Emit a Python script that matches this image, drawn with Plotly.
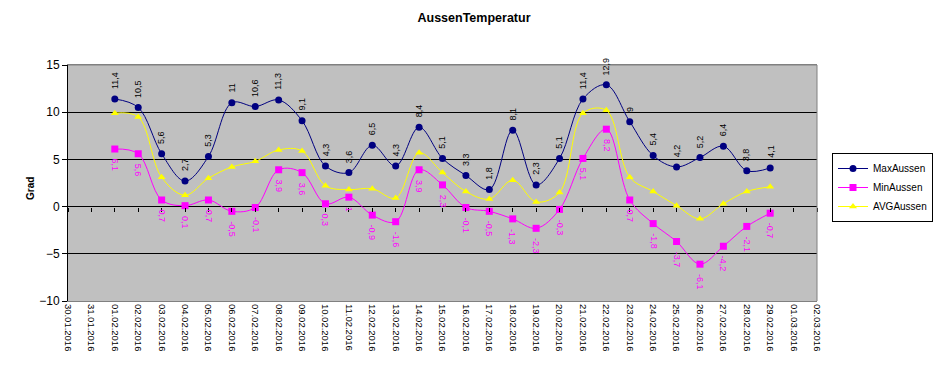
import plotly.graph_objects as go

axis_dates = ["30.01.2016", "31.01.2016",
              "01.02.2016", "02.02.2016", "03.02.2016", "04.02.2016", "05.02.2016",
              "06.02.2016", "07.02.2016", "08.02.2016", "09.02.2016", "10.02.2016",
              "11.02.2016", "12.02.2016", "13.02.2016", "14.02.2016", "15.02.2016",
              "16.02.2016", "17.02.2016", "18.02.2016", "19.02.2016", "20.02.2016",
              "21.02.2016", "22.02.2016", "23.02.2016", "24.02.2016", "25.02.2016",
              "26.02.2016", "27.02.2016", "28.02.2016", "29.02.2016",
              "01.03.2016", "02.03.2016"]

data_dates = axis_dates[2:31]

max_aussen = [11.4, 10.5, 5.6, 2.7, 5.3, 11, 10.6, 11.3, 9.1, 4.3, 3.6, 6.5, 4.3, 8.4, 5.1,
              3.3, 1.8, 8.1, 2.3, 5.1, 11.4, 12.9, 9, 5.4, 4.2, 5.2, 6.4, 3.8, 4.1]
min_aussen = [6.1, 5.6, 0.7, 0.1, 0.7, -0.5, -0.1, 3.9, 3.6, 0.3, 1, -0.9, -1.6, 3.9, 2.3,
              -0.1, -0.5, -1.3, -2.3, -0.3, 5.1, 8.2, 0.7, -1.8, -3.7, -6.1, -4.2, -2.1, -0.7]
avg_aussen = [9.9, 9.5, 3.1, 1.2, 3.0, 4.2, 4.8, 6.0, 5.9, 2.2, 1.8, 1.9, 0.9, 5.7, 3.6,
              1.6, 0.8, 2.8, 0.5, 1.5, 9.9, 10.2, 3.1, 1.6, 0.1, -1.3, 0.3, 1.6, 2.1]

y_ticks = [-10, -5, 0, 5, 10, 15]

x = [axis_dates.index(d) for d in data_dates]

FONT = "Arial, Liberation Sans, sans-serif"
# page body has an 8px margin on every side: keep the page exactly window-sized
OFF = 8
W, H = 943 - 2 * OFF, 368 - 2 * OFF
L, T = 68 - OFF, 65 - OFF
R = W - (817 - OFF)
B = H - (301 - OFF)
pw, ph = W - L - R, H - T - B

fig = go.Figure()
fig.add_trace(go.Scatter(x=x, y=max_aussen, name="MaxAussen", mode="lines+markers",
                         line=dict(color="#000080", width=1, shape="spline"),
                         marker=dict(symbol="circle", size=7, color="#000080")))
fig.add_trace(go.Scatter(x=x, y=min_aussen, name="MinAussen", mode="lines+markers",
                         line=dict(color="#FF00FF", width=1, shape="spline"),
                         marker=dict(symbol="square", size=7, color="#FF00FF")))
fig.add_trace(go.Scatter(x=x, y=avg_aussen, name="AVGAussen", mode="lines+markers",
                         line=dict(color="#FFFF00", width=1, shape="spline"),
                         marker=dict(symbol="triangle-up", size=7, color="#FFFF00")))
# invisible trace for the zero-line tick axis
fig.add_trace(go.Scatter(x=[0, len(axis_dates) - 1], y=[0, 0], xaxis="x2", mode="lines",
                         line=dict(width=0), showlegend=False, hoverinfo="skip"))


def fmt(v):
    return ("%g" % v).replace(".", ",")


def text_len(s, size=9):
    w = {",": 0.278, "-": 0.333}
    return sum(w.get(c, 0.556) for c in s) * size


GAP = 10
annotations = []
for xi, v in zip(x, max_aussen):
    s = fmt(v)
    annotations.append(dict(x=xi, y=v, xref="x", yref="y", text=s, textangle=-90,
                            showarrow=False, xanchor="center", yanchor="middle",
                            yshift=GAP + text_len(s) / 2,
                            font=dict(family=FONT, size=9, color="black")))
for xi, v in zip(x, min_aussen):
    s = fmt(v)
    annotations.append(dict(x=xi, y=v, xref="x", yref="y", text=s, textangle=90,
                            showarrow=False, xanchor="center", yanchor="middle",
                            yshift=-(GAP + text_len(s) / 2),
                            font=dict(family=FONT, size=9, color="#FF00FF")))
annotations.append(dict(x=(30 - 68) / pw, y=(301 - 189) / ph, xref="paper", yref="paper",
                        text="<b>Grad</b>", textangle=-90, showarrow=False,
                        xanchor="center", yanchor="middle",
                        font=dict(family=FONT, size=10, color="black")))

fig.update_layout(
    width=W, height=H,
    margin=dict(l=L, r=R, t=T, b=B, autoexpand=False),
    paper_bgcolor="white",
    plot_bgcolor="#C0C0C0",
    title=dict(text="<b>AussenTemperatur</b>", x=(474 - OFF) / W, xref="container",
               y=1 - (18 - OFF) / H, yref="container", xanchor="center", yanchor="middle",
               font=dict(family=FONT, size=12.5, color="black")),
    xaxis=dict(range=[0, len(axis_dates) - 1], tickvals=list(range(len(axis_dates))),
               ticktext=axis_dates, tickangle=90, ticks="", showgrid=False, zeroline=False,
               showline=True, linecolor="#808080", linewidth=1, mirror=True,
               automargin=False,
               tickfont=dict(family=FONT, size=9.5, color="black")),
    xaxis2=dict(range=[0, len(axis_dates) - 1], tickvals=list(range(len(axis_dates))),
                showticklabels=False, ticks="outside", ticklen=4, tickcolor="black",
                showline=False, showgrid=False, zeroline=False, overlaying="x",
                anchor="free", position=10 / 25, automargin=False),
    yaxis=dict(range=[-10, 15], tickvals=y_ticks, ticks="outside", ticklen=5,
               tickcolor="black", showgrid=True, gridcolor="black", gridwidth=1,
               zeroline=True, zerolinecolor="black", zerolinewidth=1,
               showline=True, linecolor="black", linewidth=1, automargin=False,
               tickfont=dict(family=FONT, size=12, color="black")),
    legend=dict(x=(933 - 68) / pw, y=(301 - 153) / ph, xanchor="right", yanchor="top",
                bgcolor="white", bordercolor="black", borderwidth=1,
                font=dict(family=FONT, size=10, color="black"),
                itemwidth=30, tracegroupgap=2),
    annotations=annotations,
    shapes=[
        dict(type="line", xref="paper", yref="paper", x0=1, x1=1, y0=0, y1=1,
             line=dict(color="#808080", width=1)),
        dict(type="line", xref="paper", yref="paper", x0=0, x1=1, y0=1, y1=1,
             line=dict(color="#808080", width=1)),
    ],
    showlegend=True,
)

fig.write_html("out.html")
